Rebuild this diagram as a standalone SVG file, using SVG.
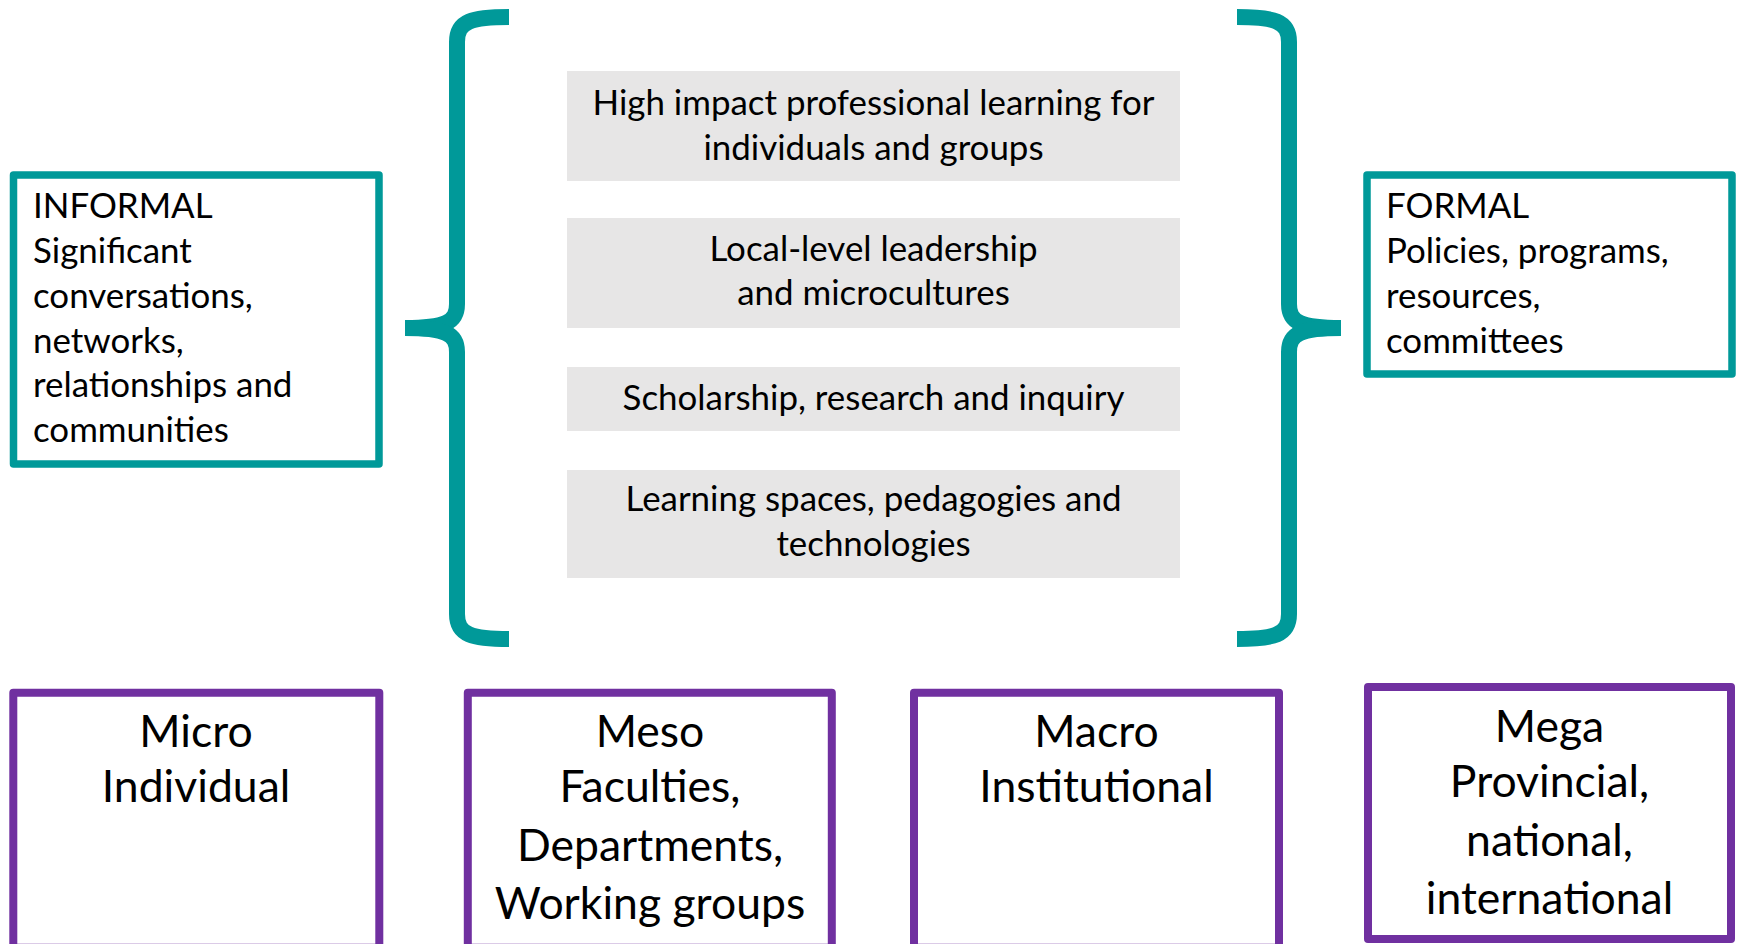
<svg xmlns="http://www.w3.org/2000/svg" width="1737" height="944" viewBox="0 0 1737 944">
<style>
.bg{fill:#ffffff}
.teal{fill:#ffffff;stroke:#009999;stroke-width:7.5;stroke-linejoin:round}
.purple{fill:#ffffff;stroke:#7030A0;stroke-width:8;stroke-linejoin:round}
.gray{fill:#E7E6E6}
.brace{fill:none;stroke:#009999;stroke-width:16;stroke-linecap:butt;stroke-linejoin:miter}
.t{font-family:Lato,"Noto Sans","Liberation Sans",sans-serif;font-size:34.9px;fill:#000000}
.c{text-anchor:middle}
.big{font-family:Lato,"Noto Sans","Liberation Sans",sans-serif;font-size:44.5px;fill:#000000;text-anchor:middle}
</style>
<rect class="bg" x="0" y="0" width="1737" height="944"/>

<g id="connectors">
  <path class="brace" d="M509 17 C472 17 457 21 457 42 L457 304 C457 322 446 328 405 328"/>
  <path class="brace" d="M405 328 C446 328 457 334 457 352 L457 614 C457 635 472 639 509 639"/>
  <path class="brace" d="M1237 17 C1274 17 1289 21 1289 42 L1289 304 C1289 322 1300 328 1341 328"/>
  <path class="brace" d="M1341 328 C1300 328 1289 334 1289 352 L1289 614 C1289 635 1274 639 1237 639"/>
</g>

<g id="informal">
  <rect class="teal" x="13.5" y="175" width="365.5" height="289"/>
  <text class="t" x="33" y="218">INFORMAL</text>
  <text class="t" x="33" y="263">Significant</text>
  <text class="t" x="33" y="308">conversations,</text>
  <text class="t" x="33" y="352.5">networks,</text>
  <text class="t" x="33" y="397">relationships and</text>
  <text class="t" x="33" y="442">communities</text>
</g>

<g id="formal">
  <rect class="teal" x="1367" y="175" width="365" height="199"/>
  <text class="t" x="1386" y="218">FORMAL</text>
  <text class="t" x="1386" y="263">Policies, programs,</text>
  <text class="t" x="1386" y="308">resources,</text>
  <text class="t" x="1386" y="353">committees</text>
</g>

<g id="box-high-impact">
  <rect class="gray" x="567" y="71" width="613" height="110"/>
  <text class="t c" x="873.5" y="115">High impact professional learning for</text>
  <text class="t c" x="873.5" y="159.5">individuals and groups</text>
</g>

<g id="box-local-leadership">
  <rect class="gray" x="567" y="218" width="613" height="110"/>
  <text class="t c" x="873.5" y="260.5">Local-level leadership</text>
  <text class="t c" x="873.5" y="305">and microcultures</text>
</g>

<g id="box-scholarship">
  <rect class="gray" x="567" y="367" width="613" height="64"/>
  <text class="t c" x="873.5" y="409.5">Scholarship, research and inquiry</text>
</g>

<g id="box-learning-spaces">
  <rect class="gray" x="567" y="470" width="613" height="108"/>
  <text class="t c" x="873.5" y="511">Learning spaces, pedagogies and</text>
  <text class="t c" x="873.5" y="555.5">technologies</text>
</g>

<g id="micro">
  <rect class="purple" x="13.3" y="692.7" width="366" height="255"/>
  <text class="big" x="196" y="747">Micro</text>
  <text class="big" x="196" y="802">Individual</text>
</g>

<g id="meso">
  <rect class="purple" x="467.8" y="692.7" width="364" height="255"/>
  <text class="big" x="650" y="747">Meso</text>
  <text class="big" x="650" y="802">Faculties,</text>
  <text class="big" x="650" y="860.5">Departments,</text>
  <text class="big" x="650" y="919">Working groups</text>
</g>

<g id="macro">
  <rect class="purple" x="914" y="692.7" width="365" height="255"/>
  <text class="big" x="1096.5" y="747">Macro</text>
  <text class="big" x="1096.5" y="802">Institutional</text>
</g>

<g id="mega">
  <rect class="purple" x="1368" y="687" width="363" height="252"/>
  <text class="big" x="1549.5" y="741.5">Mega</text>
  <text class="big" x="1549.5" y="797">Provincial,</text>
  <text class="big" x="1549.5" y="855.5">national,</text>
  <text class="big" x="1549.5" y="914">international</text>
</g>
</svg>
